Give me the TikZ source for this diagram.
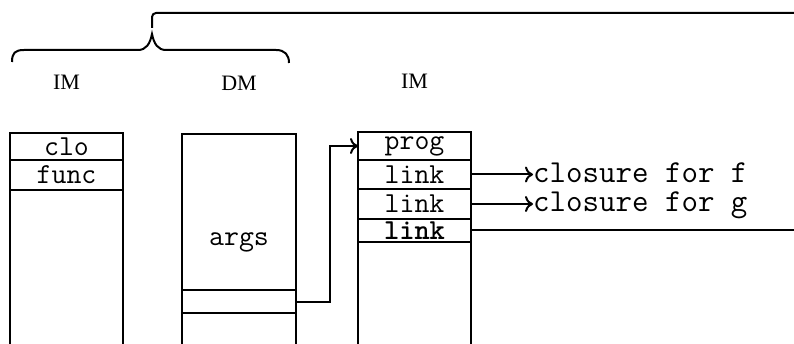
\documentclass[tikz,border=0pt]{standalone}
\usepackage{fontspec}
\setmainfont{Liberation Serif}
\usetikzlibrary{positioning,arrows.meta}

\tikzset{
  cell/.style={draw, line width=2pt, outer sep=0pt, inner sep=0pt,
    minimum width=113pt, font=\fontsize{29}{29}\selectfont\ttfamily},
  memlabel/.style={font=\fontsize{22}{22}\selectfont},
  note/.style={inner sep=0pt, anchor=west, text height=17pt, text depth=5pt,
    font=\fontsize{32}{32}\selectfont\ttfamily},
  wire/.style={line width=2pt},
  ptr/.style={wire, -{Computer Modern Rightarrow[length=8pt,width=16pt]}},
}

\begin{document}
\begin{tikzpicture}[x=1pt,y=-1pt]
  \useasboundingbox (0,0) rectangle (794,344);
  \coordinate (floor) at (0,344);
  \coordinate (rimtop) at (794,13);
  \coordinate (rimlow) at (794,231);
  \coordinate (cusp) at (152,34);

  % left IM column
  \node[cell, minimum height=27pt] (clo) at (66.5,146.5) {clo};
  \node[cell, minimum height=30pt, below=0pt of clo] (func) {func};
  \draw[wire] (func.south west) -- (func.south west |- floor);
  \draw[wire] (func.south east) -- (func.south east |- floor);
  \node[memlabel, above=40pt of clo] (imleft) {IM};

  % DM column
  \node[cell, minimum width=114pt, minimum height=156pt] (dmbox) at (239,212) {};
  \node[cell, draw=none] (args) at ([yshift=-30pt]dmbox.center) {args};
  \node[cell, minimum width=114pt, minimum height=23pt, below=0pt of dmbox] (ret) {};
  \draw[wire] (ret.south west) -- (ret.south west |- floor);
  \draw[wire] (ret.south east) -- (ret.south east |- floor);
  \node[memlabel, above=40pt of dmbox] (dm) {DM};

  % right IM column
  \node[cell, minimum height=28pt] (prog) at (414.5,146) {prog};
  \node[cell, minimum height=29pt, below=0pt of prog] (linkf) {link};
  \node[cell, minimum height=30pt, below=0pt of linkf] (linkg) {link};
  \node[cell, minimum height=23pt, below=0pt of linkg] (linkh) {\bfseries link};
  \draw[wire] (linkh.south west) -- (linkh.south west |- floor);
  \draw[wire] (linkh.south east) -- (linkh.south east |- floor);
  \node[memlabel, above=40pt of prog] (imright) {IM};

  % pointers
  \draw[ptr] (ret.east) -- ++(34,0) |- (prog.west);
  \node[note] (forf) at (533,177) {closure for f};
  \node[note] (forg) at (533,206) {closure for g};
  \draw[ptr] (linkf.east) -- (linkf.east -| forf.west);
  \draw[ptr] (linkg.east) -- (linkg.east -| forg.west);
  \draw[wire] (linkh.east) -- (linkh.east -| rimlow);

  % brace over IM and DM
  \draw[wire] (12,62) .. controls (12,53) and (15,50) .. (24,50) -- (138,50)
    .. controls (146,50) and (150,44) .. (cusp)
    .. controls (154,44) and (158,50) .. (166,50) -- (276,50)
    .. controls (285,50) and (289,55) .. (289,63);
  \draw[wire, rounded corners=4pt] ([yshift=6pt]cusp) |- (rimtop);
\end{tikzpicture}
\end{document}
